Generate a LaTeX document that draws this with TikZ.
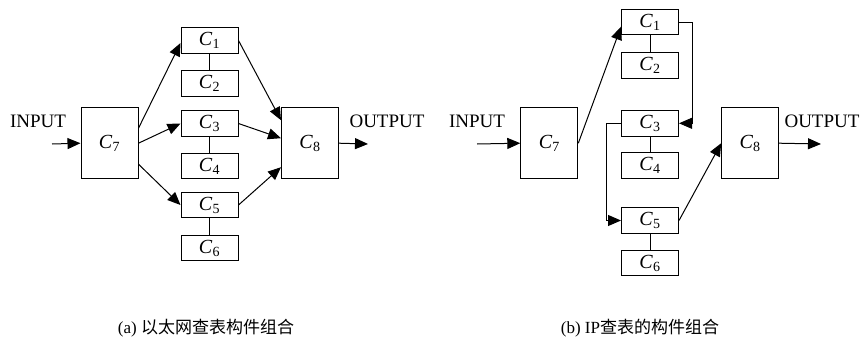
\documentclass[tikz,border=0pt]{standalone}
\usepackage{fontspec}
\setmainfont{Liberation Serif}
\newfontfamily\cjk{Noto Sans CJK SC}
\usetikzlibrary{arrows.meta}
\newcommand{\comp}[1]{\textit{C}\textsubscript{#1}}
\tikzset{
  blk/.style={draw, line width=1pt, minimum width=57pt, minimum height=25.5pt, inner sep=0pt, font=\fontsize{20}{22}\selectfont},
  bigblk/.style={blk, minimum height=71.5pt},
  lbl/.style={inner sep=0pt, font=\fontsize{19}{22}\selectfont},
  captxt/.style={inner sep=0pt, font=\fontsize{17}{20}\selectfont},
}

\begin{document}
\begin{tikzpicture}[x=1pt, y=-1pt, >={Triangle[length=13pt,width=11pt]}, line width=1pt]
  \useasboundingbox (0,0) rectangle (866,343);
  % (a) ethernet lookup
  \node[blk] (a1) at (209.5,40.5) {\comp{1}};
  \node[blk] (a2) at (209.5,83.5) {\comp{2}};
  \node[blk] (a3) at (209.5,123.5) {\comp{3}};
  \node[blk] (a4) at (209.5,166) {\comp{4}};
  \node[blk] (a5) at (209.5,205) {\comp{5}};
  \node[blk] (a6) at (209.5,248) {\comp{6}};
  \node[bigblk] (a7) at (109.5,143.2) {\comp{7}};
  \node[bigblk] (a8) at (310,143.2) {\comp{8}};
  \node[lbl] (ain) at (38,121) {INPUT};
  \node[lbl] (aout) at (387,121) {OUTPUT};
  \coordinate (ainx) at (52,144);
  \coordinate (aoutx) at (368,144);
  \draw (a1) -- (a2);
  \draw (a3) -- (a4);
  \draw (a5) -- (a6);
  \draw[->] (ainx) -- (a7.west);
  \draw[->] (a8.east) -- (aoutx);
  \draw[->] ([yshift=15pt]a7.east) -- ([yshift=-2.5pt]a1.west);
  \draw[->] (a7.east) -- (a3.west);
  \draw[->] ([yshift=-21pt]a7.east) -- (a5.west);
  \draw[->] (a1.east) -- ([yshift=23pt]a8.west);
  \draw[->] (a3.east) -- ([yshift=5pt]a8.west);
  \draw[->] (a5.east) -- ([yshift=-24pt]a8.west);
  % (b) IP lookup
  \node[blk] (b1) at (650,22.2) {\comp{1}};
  \node[blk] (b2) at (650,65.3) {\comp{2}};
  \node[blk] (b3) at (650,123.3) {\comp{3}};
  \node[blk] (b4) at (650,165.3) {\comp{4}};
  \node[blk] (b5) at (650,220.5) {\comp{5}};
  \node[blk] (b6) at (650,263) {\comp{6}};
  \node[bigblk] (b7) at (549.3,143.2) {\comp{7}};
  \node[bigblk] (b8) at (750.2,143.2) {\comp{8}};
  \node[lbl] (bin) at (477,121) {INPUT};
  \node[lbl] (bout) at (822,121) {OUTPUT};
  \coordinate (binx) at (477,144);
  \coordinate (boutx) at (821,144);
  \draw (b1) -- (b2);
  \draw (b3) -- (b4);
  \draw (b5) -- (b6);
  \draw[->] (binx) -- (b7.west);
  \draw[->] (b8.east) -- (boutx);
  \draw[->] (b7.east) -- ([yshift=-4.5pt]b1.west);
  \draw[->] (b1.east) -- ++(13.6,0) |- (b3.east);
  \draw[->] (b3.west) -- ++(-15,0) |- (b5.west);
  \draw[->] (b5.east) -- (b8.west);
  % captions
  \node[captxt] (capa) at (206,328) {(a) {\cjk 以太网查表构件组合}};
  \node[captxt] (capb) at (640,328) {(b) IP{\cjk 查表的构件组合}};
\end{tikzpicture}
\end{document}
